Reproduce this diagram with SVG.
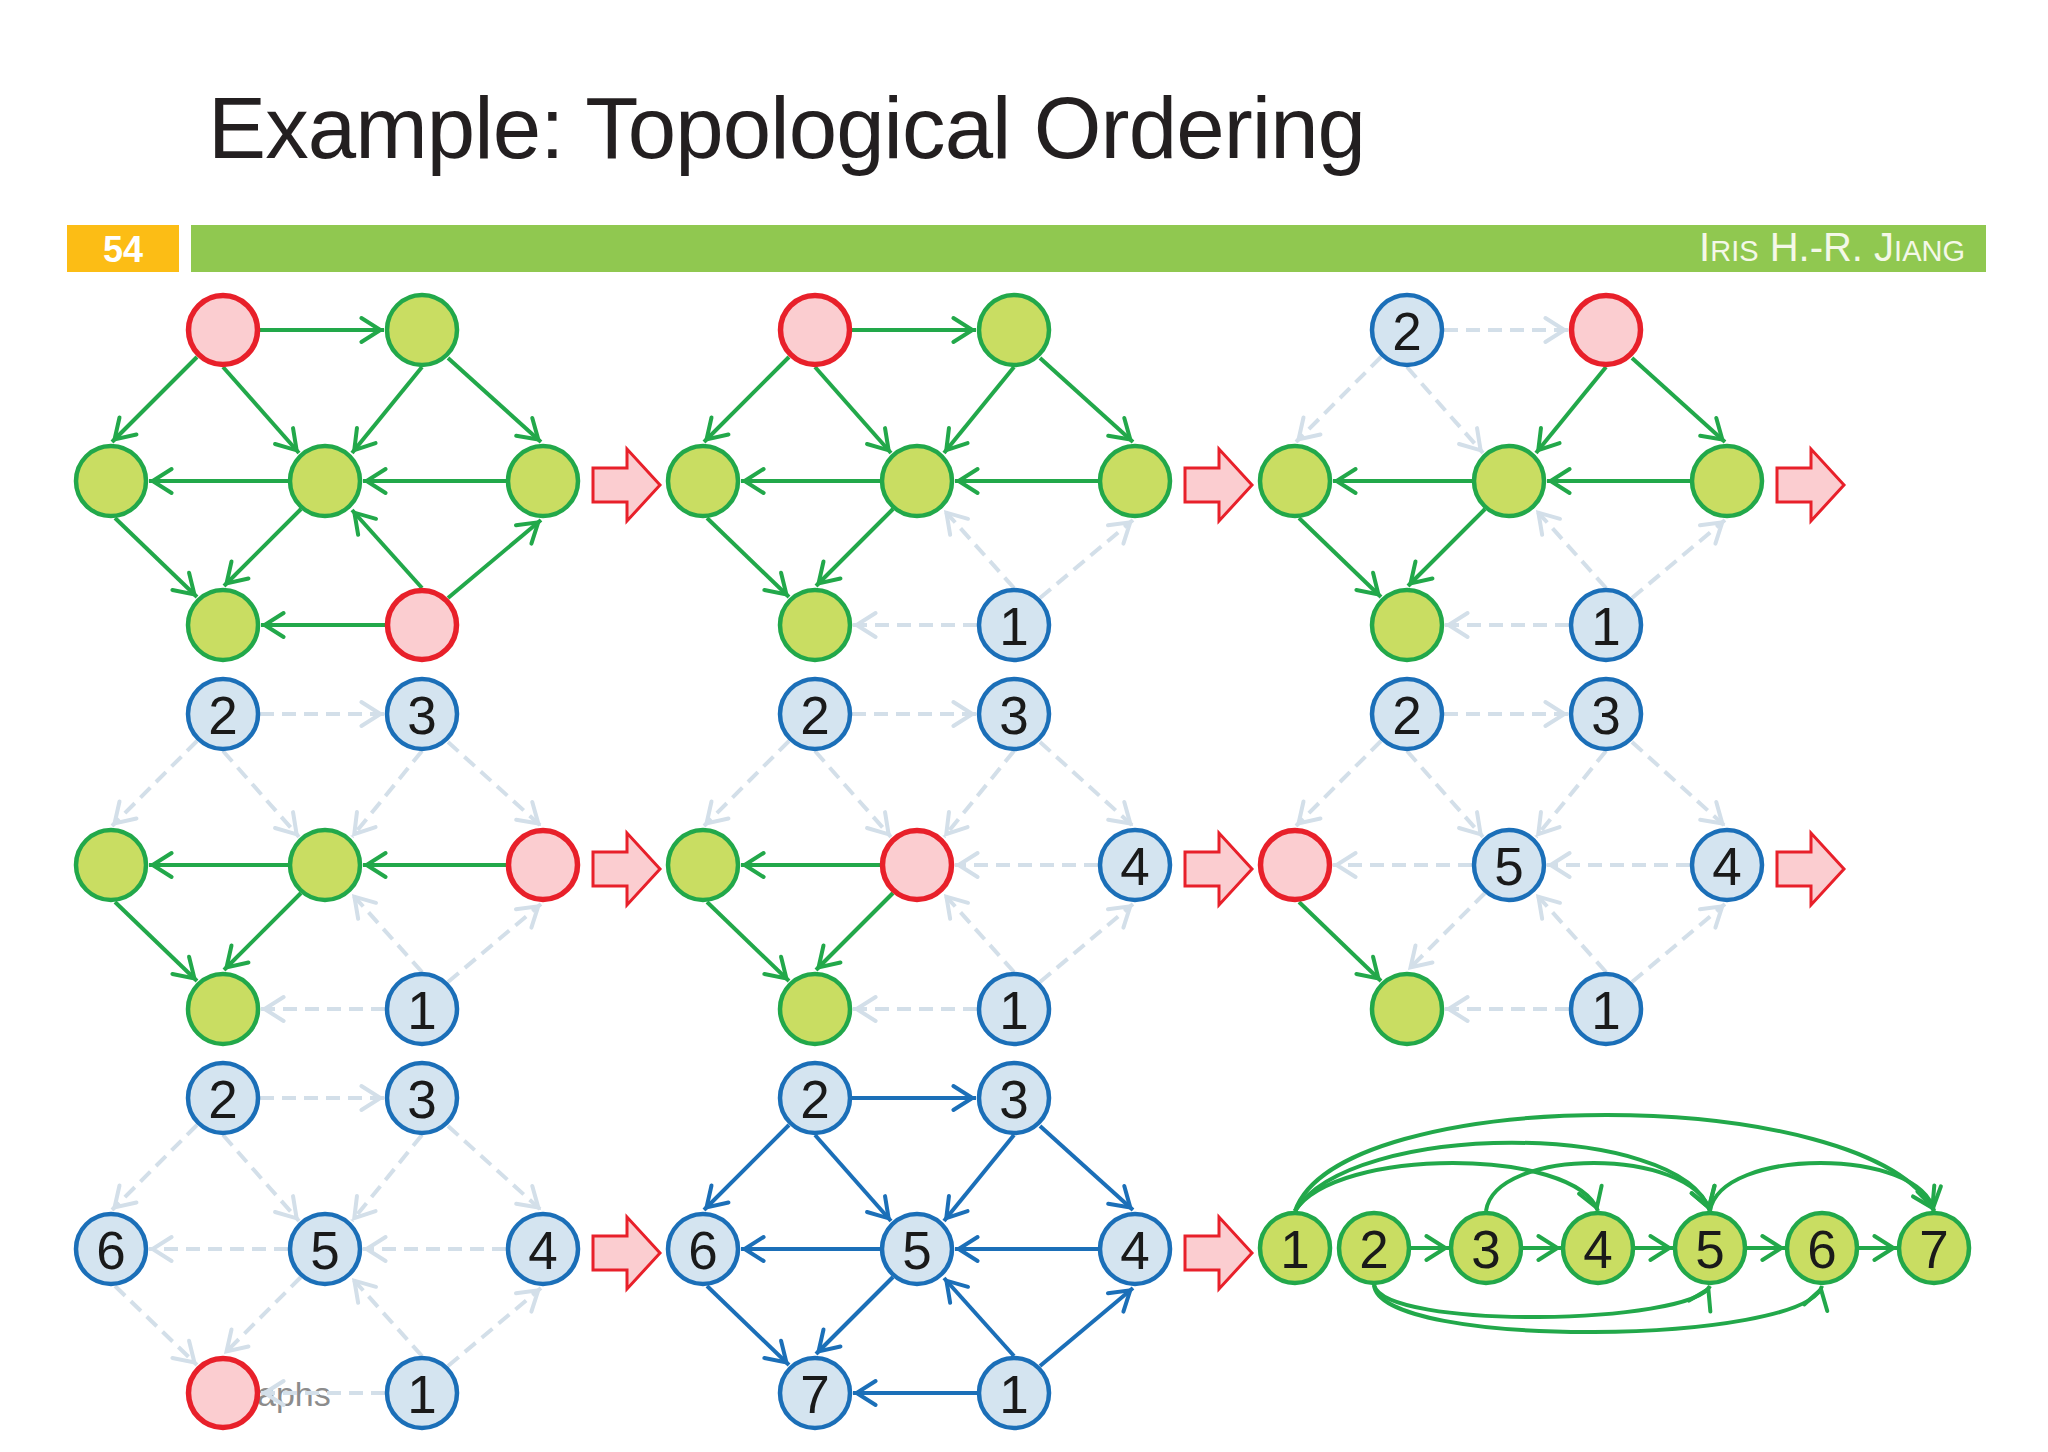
<svg xmlns="http://www.w3.org/2000/svg" width="2048" height="1452" viewBox="0 0 2048 1452">
<style>
.ng{fill:#c9dd62;stroke:#22a84a;stroke-width:4.5}
.nr{fill:#fbcdd0;stroke:#e8202a;stroke-width:5.5}
.nb{fill:#d4e4f0;stroke:#1b6fb8;stroke-width:4.5}
.lbl{font-family:"Liberation Sans",Arial,sans-serif;font-size:53px;fill:#1a1a1a;text-anchor:middle}
.eg{stroke:#22a84a;stroke-width:4;fill:none;marker-end:url(#mg)}
.ed{stroke:#d3dfe9;stroke-width:4;stroke-dasharray:14 8;fill:none;marker-end:url(#md)}
.eb{stroke:#1b6fb8;stroke-width:4;fill:none;marker-end:url(#mb)}
.big{fill:#fbcdd0;stroke:#e8202a;stroke-width:3}
</style>
<defs>
<marker id="mg" markerUnits="userSpaceOnUse" markerWidth="30" markerHeight="30" viewBox="-25 -15 30 30" refX="3.6" refY="0" orient="auto" overflow="visible"><path d="M-19,-12 L0,0 L-19,12" fill="none" stroke="#22a84a" stroke-width="4" stroke-linecap="round"/></marker>
<marker id="md" markerUnits="userSpaceOnUse" markerWidth="30" markerHeight="30" viewBox="-25 -15 30 30" refX="3.6" refY="0" orient="auto" overflow="visible"><path d="M-19,-12 L0,0 L-19,12" fill="none" stroke="#d3dfe9" stroke-width="4" stroke-linecap="round"/></marker>
<marker id="mb" markerUnits="userSpaceOnUse" markerWidth="30" markerHeight="30" viewBox="-25 -15 30 30" refX="3.6" refY="0" orient="auto" overflow="visible"><path d="M-19,-12 L0,0 L-19,12" fill="none" stroke="#1b6fb8" stroke-width="4" stroke-linecap="round"/></marker>
</defs>
<rect width="2048" height="1452" fill="#ffffff"/>
<g id="header">
<text x="208" y="158" font-family="'Liberation Sans',Arial,sans-serif" font-size="87" letter-spacing="-0.9" fill="#231f20">Example: Topological Ordering</text>
<rect x="67" y="225" width="112" height="47" fill="#fcbd15"/>
<text x="123" y="262" font-family="'Liberation Sans',Arial,sans-serif" font-size="36" font-weight="bold" fill="#ffffff" text-anchor="middle">54</text>
<rect x="191" y="225" width="1795" height="47" fill="#90c850"/>
<text x="1965" y="261" font-family="'Liberation Sans',Arial,sans-serif" font-size="40" fill="#f4f8e8" text-anchor="end">I<tspan font-size="29">RIS</tspan> H.-R. J<tspan font-size="29">IANG</tspan></text>
</g>
<text id="footer" x="257" y="1406" font-family="'Liberation Sans',Arial,sans-serif" font-size="34" fill="#8c8c8c">aphs</text>
<g id="step-arrows">
<path class="big" d="M593,468 H627 V449 L660,485 L627,521 V502 H593 Z"/>
<path class="big" transform="translate(592,0)" d="M593,468 H627 V449 L660,485 L627,521 V502 H593 Z"/>
<path class="big" transform="translate(1184,0)" d="M593,468 H627 V449 L660,485 L627,521 V502 H593 Z"/>
<path class="big" transform="translate(0,384)" d="M593,468 H627 V449 L660,485 L627,521 V502 H593 Z"/>
<path class="big" transform="translate(592,384)" d="M593,468 H627 V449 L660,485 L627,521 V502 H593 Z"/>
<path class="big" transform="translate(1184,384)" d="M593,468 H627 V449 L660,485 L627,521 V502 H593 Z"/>
<path class="big" transform="translate(0,768)" d="M593,468 H627 V449 L660,485 L627,521 V502 H593 Z"/>
<path class="big" transform="translate(592,768)" d="M593,468 H627 V449 L660,485 L627,521 V502 H593 Z"/>
</g>
<g id="connectors">
<g transform="translate(0,0)">
<line class="eg" x1="260" y1="330" x2="384" y2="330"/>
<line class="eg" x1="197" y1="357" x2="112" y2="442"/>
<line class="eg" x1="223" y1="367" x2="299" y2="453"/>
<line class="eg" x1="422" y1="367" x2="352" y2="453"/>
<line class="eg" x1="448" y1="358" x2="541" y2="442"/>
<line class="eg" x1="288" y1="481" x2="149" y2="481"/>
<line class="eg" x1="506" y1="481" x2="363" y2="481"/>
<line class="eg" x1="115" y1="518" x2="197" y2="597"/>
<line class="eg" x1="301" y1="509" x2="224" y2="586"/>
<line class="eg" x1="422" y1="588" x2="352" y2="510"/>
<line class="eg" x1="448" y1="598" x2="541" y2="520"/>
<line class="eg" x1="385" y1="625" x2="261" y2="625"/>
</g>
<g transform="translate(592,0)">
<line class="ed" x1="422" y1="588" x2="352" y2="510"/>
<line class="ed" x1="448" y1="598" x2="541" y2="520"/>
<line class="ed" x1="385" y1="625" x2="261" y2="625"/>
<line class="eg" x1="260" y1="330" x2="384" y2="330"/>
<line class="eg" x1="197" y1="357" x2="112" y2="442"/>
<line class="eg" x1="223" y1="367" x2="299" y2="453"/>
<line class="eg" x1="422" y1="367" x2="352" y2="453"/>
<line class="eg" x1="448" y1="358" x2="541" y2="442"/>
<line class="eg" x1="288" y1="481" x2="149" y2="481"/>
<line class="eg" x1="506" y1="481" x2="363" y2="481"/>
<line class="eg" x1="115" y1="518" x2="197" y2="597"/>
<line class="eg" x1="301" y1="509" x2="224" y2="586"/>
</g>
<g transform="translate(1184,0)">
<line class="ed" x1="422" y1="588" x2="352" y2="510"/>
<line class="ed" x1="448" y1="598" x2="541" y2="520"/>
<line class="ed" x1="385" y1="625" x2="261" y2="625"/>
<line class="ed" x1="260" y1="330" x2="384" y2="330"/>
<line class="ed" x1="197" y1="357" x2="112" y2="442"/>
<line class="ed" x1="223" y1="367" x2="299" y2="453"/>
<line class="eg" x1="422" y1="367" x2="352" y2="453"/>
<line class="eg" x1="448" y1="358" x2="541" y2="442"/>
<line class="eg" x1="288" y1="481" x2="149" y2="481"/>
<line class="eg" x1="506" y1="481" x2="363" y2="481"/>
<line class="eg" x1="115" y1="518" x2="197" y2="597"/>
<line class="eg" x1="301" y1="509" x2="224" y2="586"/>
</g>
<g transform="translate(0,384)">
<line class="ed" x1="422" y1="588" x2="352" y2="510"/>
<line class="ed" x1="448" y1="598" x2="541" y2="520"/>
<line class="ed" x1="385" y1="625" x2="261" y2="625"/>
<line class="ed" x1="260" y1="330" x2="384" y2="330"/>
<line class="ed" x1="197" y1="357" x2="112" y2="442"/>
<line class="ed" x1="223" y1="367" x2="299" y2="453"/>
<line class="ed" x1="422" y1="367" x2="352" y2="453"/>
<line class="ed" x1="448" y1="358" x2="541" y2="442"/>
<line class="eg" x1="288" y1="481" x2="149" y2="481"/>
<line class="eg" x1="506" y1="481" x2="363" y2="481"/>
<line class="eg" x1="115" y1="518" x2="197" y2="597"/>
<line class="eg" x1="301" y1="509" x2="224" y2="586"/>
</g>
<g transform="translate(592,384)">
<line class="ed" x1="422" y1="588" x2="352" y2="510"/>
<line class="ed" x1="448" y1="598" x2="541" y2="520"/>
<line class="ed" x1="385" y1="625" x2="261" y2="625"/>
<line class="ed" x1="260" y1="330" x2="384" y2="330"/>
<line class="ed" x1="197" y1="357" x2="112" y2="442"/>
<line class="ed" x1="223" y1="367" x2="299" y2="453"/>
<line class="ed" x1="422" y1="367" x2="352" y2="453"/>
<line class="ed" x1="448" y1="358" x2="541" y2="442"/>
<line class="ed" x1="506" y1="481" x2="363" y2="481"/>
<line class="eg" x1="288" y1="481" x2="149" y2="481"/>
<line class="eg" x1="115" y1="518" x2="197" y2="597"/>
<line class="eg" x1="301" y1="509" x2="224" y2="586"/>
</g>
<g transform="translate(1184,384)">
<line class="ed" x1="422" y1="588" x2="352" y2="510"/>
<line class="ed" x1="448" y1="598" x2="541" y2="520"/>
<line class="ed" x1="385" y1="625" x2="261" y2="625"/>
<line class="ed" x1="260" y1="330" x2="384" y2="330"/>
<line class="ed" x1="197" y1="357" x2="112" y2="442"/>
<line class="ed" x1="223" y1="367" x2="299" y2="453"/>
<line class="ed" x1="422" y1="367" x2="352" y2="453"/>
<line class="ed" x1="448" y1="358" x2="541" y2="442"/>
<line class="ed" x1="506" y1="481" x2="363" y2="481"/>
<line class="ed" x1="288" y1="481" x2="149" y2="481"/>
<line class="ed" x1="301" y1="509" x2="224" y2="586"/>
<line class="eg" x1="115" y1="518" x2="197" y2="597"/>
</g>
<g transform="translate(0,768)">
<line class="ed" x1="422" y1="588" x2="352" y2="510"/>
<line class="ed" x1="448" y1="598" x2="541" y2="520"/>
<line class="ed" x1="385" y1="625" x2="261" y2="625"/>
<line class="ed" x1="260" y1="330" x2="384" y2="330"/>
<line class="ed" x1="197" y1="357" x2="112" y2="442"/>
<line class="ed" x1="223" y1="367" x2="299" y2="453"/>
<line class="ed" x1="422" y1="367" x2="352" y2="453"/>
<line class="ed" x1="448" y1="358" x2="541" y2="442"/>
<line class="ed" x1="506" y1="481" x2="363" y2="481"/>
<line class="ed" x1="288" y1="481" x2="149" y2="481"/>
<line class="ed" x1="301" y1="509" x2="224" y2="586"/>
<line class="ed" x1="115" y1="518" x2="197" y2="597"/>
</g>
<g transform="translate(592,768)">
<line class="eb" x1="260" y1="330" x2="384" y2="330"/>
<line class="eb" x1="197" y1="357" x2="112" y2="442"/>
<line class="eb" x1="223" y1="367" x2="299" y2="453"/>
<line class="eb" x1="422" y1="367" x2="352" y2="453"/>
<line class="eb" x1="448" y1="358" x2="541" y2="442"/>
<line class="eb" x1="288" y1="481" x2="149" y2="481"/>
<line class="eb" x1="506" y1="481" x2="363" y2="481"/>
<line class="eb" x1="115" y1="518" x2="197" y2="597"/>
<line class="eb" x1="301" y1="509" x2="224" y2="586"/>
<line class="eb" x1="422" y1="588" x2="352" y2="510"/>
<line class="eb" x1="448" y1="598" x2="541" y2="520"/>
<line class="eb" x1="385" y1="625" x2="261" y2="625"/>
</g>
<g id="linear-edges">
<line class="eg" x1="1411" y1="1248" x2="1449" y2="1248"/>
<line class="eg" x1="1523" y1="1248" x2="1561" y2="1248"/>
<line class="eg" x1="1635" y1="1248" x2="1673" y2="1248"/>
<line class="eg" x1="1747" y1="1248" x2="1785" y2="1248"/>
<line class="eg" x1="1859" y1="1248" x2="1897" y2="1248"/>
<path class="eg" d="M1295,1211 C1335,1147 1575,1147 1598,1211"/>
<path class="eg" d="M1295,1211 C1350,1120 1680,1120 1710,1211"/>
<path class="eg" d="M1295,1211 C1340,1083 1868,1083 1934,1211"/>
<path class="eg" d="M1486,1211 C1495,1147 1690,1147 1710,1211"/>
<path class="eg" d="M1710,1211 C1720,1147 1920,1147 1934,1211"/>
<path class="eg" d="M1374,1285 C1385,1330 1690,1325 1710,1286"/>
<path class="eg" d="M1374,1285 C1380,1350 1805,1345 1822,1286"/>
</g>
</g>
<g id="panel-1" transform="translate(0,0)">
<g id="p1-a"><circle class="nr" cx="223" cy="330" r="34.5"/></g>
<g id="p1-b"><circle class="ng" cx="422" cy="330" r="35"/></g>
<g id="p1-c"><circle class="ng" cx="111" cy="481" r="35"/></g>
<g id="p1-d"><circle class="ng" cx="325" cy="481" r="35"/></g>
<g id="p1-e"><circle class="ng" cx="543" cy="481" r="35"/></g>
<g id="p1-f"><circle class="ng" cx="223" cy="625" r="35"/></g>
<g id="p1-g"><circle class="nr" cx="422" cy="625" r="34.5"/></g>
</g>
<g id="panel-2" transform="translate(592,0)">
<g id="p2-a"><circle class="nr" cx="223" cy="330" r="34.5"/></g>
<g id="p2-b"><circle class="ng" cx="422" cy="330" r="35"/></g>
<g id="p2-c"><circle class="ng" cx="111" cy="481" r="35"/></g>
<g id="p2-d"><circle class="ng" cx="325" cy="481" r="35"/></g>
<g id="p2-e"><circle class="ng" cx="543" cy="481" r="35"/></g>
<g id="p2-f"><circle class="ng" cx="223" cy="625" r="35"/></g>
<g id="p2-g"><circle class="nb" cx="422" cy="625" r="35"/><text class="lbl" x="422" y="645">1</text></g>
</g>
<g id="panel-3" transform="translate(1184,0)">
<g id="p3-a"><circle class="nb" cx="223" cy="330" r="35"/><text class="lbl" x="223" y="350">2</text></g>
<g id="p3-b"><circle class="nr" cx="422" cy="330" r="34.5"/></g>
<g id="p3-c"><circle class="ng" cx="111" cy="481" r="35"/></g>
<g id="p3-d"><circle class="ng" cx="325" cy="481" r="35"/></g>
<g id="p3-e"><circle class="ng" cx="543" cy="481" r="35"/></g>
<g id="p3-f"><circle class="ng" cx="223" cy="625" r="35"/></g>
<g id="p3-g"><circle class="nb" cx="422" cy="625" r="35"/><text class="lbl" x="422" y="645">1</text></g>
</g>
<g id="panel-4" transform="translate(0,384)">
<g id="p4-a"><circle class="nb" cx="223" cy="330" r="35"/><text class="lbl" x="223" y="350">2</text></g>
<g id="p4-b"><circle class="nb" cx="422" cy="330" r="35"/><text class="lbl" x="422" y="350">3</text></g>
<g id="p4-c"><circle class="ng" cx="111" cy="481" r="35"/></g>
<g id="p4-d"><circle class="ng" cx="325" cy="481" r="35"/></g>
<g id="p4-e"><circle class="nr" cx="543" cy="481" r="34.5"/></g>
<g id="p4-f"><circle class="ng" cx="223" cy="625" r="35"/></g>
<g id="p4-g"><circle class="nb" cx="422" cy="625" r="35"/><text class="lbl" x="422" y="645">1</text></g>
</g>
<g id="panel-5" transform="translate(592,384)">
<g id="p5-a"><circle class="nb" cx="223" cy="330" r="35"/><text class="lbl" x="223" y="350">2</text></g>
<g id="p5-b"><circle class="nb" cx="422" cy="330" r="35"/><text class="lbl" x="422" y="350">3</text></g>
<g id="p5-c"><circle class="ng" cx="111" cy="481" r="35"/></g>
<g id="p5-d"><circle class="nr" cx="325" cy="481" r="34.5"/></g>
<g id="p5-e"><circle class="nb" cx="543" cy="481" r="35"/><text class="lbl" x="543" y="501">4</text></g>
<g id="p5-f"><circle class="ng" cx="223" cy="625" r="35"/></g>
<g id="p5-g"><circle class="nb" cx="422" cy="625" r="35"/><text class="lbl" x="422" y="645">1</text></g>
</g>
<g id="panel-6" transform="translate(1184,384)">
<g id="p6-a"><circle class="nb" cx="223" cy="330" r="35"/><text class="lbl" x="223" y="350">2</text></g>
<g id="p6-b"><circle class="nb" cx="422" cy="330" r="35"/><text class="lbl" x="422" y="350">3</text></g>
<g id="p6-c"><circle class="nr" cx="111" cy="481" r="34.5"/></g>
<g id="p6-d"><circle class="nb" cx="325" cy="481" r="35"/><text class="lbl" x="325" y="501">5</text></g>
<g id="p6-e"><circle class="nb" cx="543" cy="481" r="35"/><text class="lbl" x="543" y="501">4</text></g>
<g id="p6-f"><circle class="ng" cx="223" cy="625" r="35"/></g>
<g id="p6-g"><circle class="nb" cx="422" cy="625" r="35"/><text class="lbl" x="422" y="645">1</text></g>
</g>
<g id="panel-7" transform="translate(0,768)">
<g id="p7-a"><circle class="nb" cx="223" cy="330" r="35"/><text class="lbl" x="223" y="350">2</text></g>
<g id="p7-b"><circle class="nb" cx="422" cy="330" r="35"/><text class="lbl" x="422" y="350">3</text></g>
<g id="p7-c"><circle class="nb" cx="111" cy="481" r="35"/><text class="lbl" x="111" y="501">6</text></g>
<g id="p7-d"><circle class="nb" cx="325" cy="481" r="35"/><text class="lbl" x="325" y="501">5</text></g>
<g id="p7-e"><circle class="nb" cx="543" cy="481" r="35"/><text class="lbl" x="543" y="501">4</text></g>
<g id="p7-f"><circle class="nr" cx="223" cy="625" r="34.5"/></g>
<g id="p7-g"><circle class="nb" cx="422" cy="625" r="35"/><text class="lbl" x="422" y="645">1</text></g>
</g>
<g id="panel-8" transform="translate(592,768)">
<g id="p8-a"><circle class="nb" cx="223" cy="330" r="35"/><text class="lbl" x="223" y="350">2</text></g>
<g id="p8-b"><circle class="nb" cx="422" cy="330" r="35"/><text class="lbl" x="422" y="350">3</text></g>
<g id="p8-c"><circle class="nb" cx="111" cy="481" r="35"/><text class="lbl" x="111" y="501">6</text></g>
<g id="p8-d"><circle class="nb" cx="325" cy="481" r="35"/><text class="lbl" x="325" y="501">5</text></g>
<g id="p8-e"><circle class="nb" cx="543" cy="481" r="35"/><text class="lbl" x="543" y="501">4</text></g>
<g id="p8-f"><circle class="nb" cx="223" cy="625" r="35"/><text class="lbl" x="223" y="645">7</text></g>
<g id="p8-g"><circle class="nb" cx="422" cy="625" r="35"/><text class="lbl" x="422" y="645">1</text></g>
</g>
<g id="panel-9">
<g id="lin-1"><circle class="ng" cx="1295" cy="1248" r="35"/><text class="lbl" x="1295" y="1268">1</text></g>
<g id="lin-2"><circle class="ng" cx="1374" cy="1248" r="35"/><text class="lbl" x="1374" y="1268">2</text></g>
<g id="lin-3"><circle class="ng" cx="1486" cy="1248" r="35"/><text class="lbl" x="1486" y="1268">3</text></g>
<g id="lin-4"><circle class="ng" cx="1598" cy="1248" r="35"/><text class="lbl" x="1598" y="1268">4</text></g>
<g id="lin-5"><circle class="ng" cx="1710" cy="1248" r="35"/><text class="lbl" x="1710" y="1268">5</text></g>
<g id="lin-6"><circle class="ng" cx="1822" cy="1248" r="35"/><text class="lbl" x="1822" y="1268">6</text></g>
<g id="lin-7"><circle class="ng" cx="1934" cy="1248" r="35"/><text class="lbl" x="1934" y="1268">7</text></g>
</g>
</svg>
